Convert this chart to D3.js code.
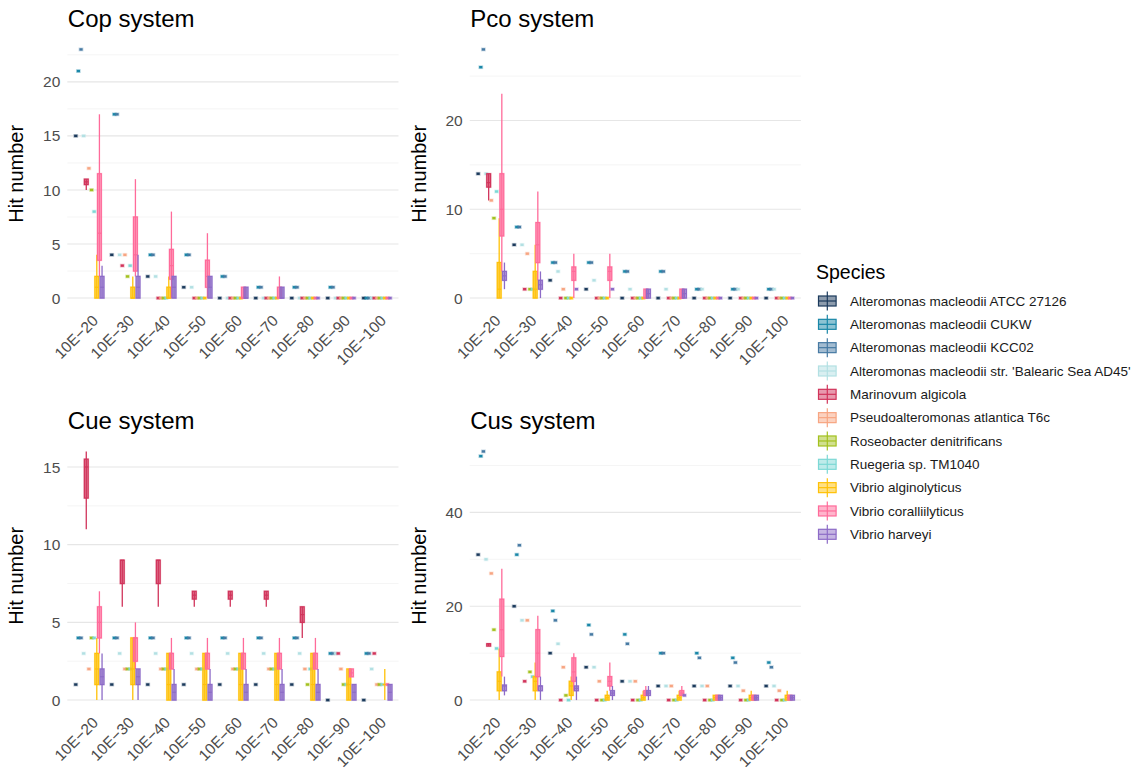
<!DOCTYPE html>
<html>
<head>
<meta charset="utf-8">
<script src="https://cdn.jsdelivr.net/npm/d3@7"></script>
<style>
  body { margin: 0; background: #fff; }
  text { font-family: "Liberation Sans", Arial, sans-serif; }
</style>
</head>
<body>
<div id="chart"></div>
<script>
// e-value thresholds (x axis)
const categories = ["10E−20", "10E−30", "10E−40", "10E−50", "10E−60", "10E−70", "10E−80", "10E−90", "10E−100"];

const species = [
  "Alteromonas macleodii ATCC 27126",
  "Alteromonas macleodii CUKW",
  "Alteromonas macleodii KCC02",
  "Alteromonas macleodii str. 'Balearic Sea AD45'",
  "Marinovum algicola",
  "Pseudoalteromonas atlantica T6c",
  "Roseobacter denitrificans",
  "Ruegeria sp. TM1040",
  "Vibrio alginolyticus",
  "Vibrio coralliilyticus",
  "Vibrio harveyi"
];

const speciesColors = ["#1b3a5c", "#1a87a8", "#477aa3", "#b3e0e3", "#d1345b", "#f7a582",
  "#a3c11f", "#7dd8d5", "#ffc107", "#ff6b9a", "#8d6bc7"];

// one row per threshold, one entry per species:
// a single number = one hit count, [min, q1, median, q3, max] = box
const copStats = [
  [15, 21, 23, 15, [10, 10.5, 10.75, 11, 11], 12, 10, 8, [0, 0, 1, 2, 4], [2, 3.5, 6, 11.5, 17], [0, 0, 1, 2, 3]],
  [4, 17, 17, 4, 3, 4, 2, 3, [0, 0, 0, 1, 2], [2, 2.5, 4, 7.5, 11], [0, 0, 1, 2, 4]],
  [2, 4, 4, 2, 0, 0, 0, 0, [0, 0, 0, 1, 2], [0, 1.75, 3, 4.5, 8], [0, 0, 1, 2, 2]],
  [1, 4, 4, 1, 0, 0, 0, 0, 0, [0, 1, 2, 3.5, 6], [0, 0, 1, 2, 2]],
  [0, 2, 2, 0, 0, 0, 0, 0, 0, [0, 0, 0, 1, 1], [0, 0, 0, 1, 1]],
  [0, 1, 1, 0, 0, 0, 0, 0, 0, [0, 0, 0, 1, 2], [0, 0, 0, 1, 1]],
  [0, 1, 1, 0, 0, 0, 0, 0, 0, 0, 0],
  [0, 1, 1, 0, 0, 0, 0, 0, 0, 0, 0],
  [0, 0, 0, 0, 0, 0, 0, 0, 0, 0, 0]
];

const pcoStats = [
  [14, 26, 28, 14, [11, 12.5, 13, 14, 14], 11, 9, 12, [0, 0, 1, 4, 9], [3, 7, 10, 14, 23], [1, 2, 2.5, 3, 4]],
  [6, 8, 8, 6, 1, 5, 1, 1, [0, 0, 1, 3, 6], [2, 4, 6, 8.5, 12], [0, 1, 1.5, 2, 3]],
  [2, 4, 4, 3, 0, 1, 0, 0, 0, [0, 2, 3, 3.5, 5], 1],
  [1, 4, 4, 2, 0, 0, 0, 0, 0, [0, 2, 3, 3.5, 5], 1],
  [0, 3, 3, 1, 0, 0, 0, 0, 0, [0, 0, 0, 1, 1], [0, 0, 0.5, 1, 1]],
  [0, 3, 3, 1, 0, 0, 0, 0, 0, [0, 0, 0, 1, 1], [0, 0, 0.5, 1, 1]],
  [0, 1, 1, 1, 0, 0, 0, 0, 0, 0, 0],
  [0, 1, 1, 1, 0, 0, 0, 0, 0, 0, 0],
  [0, 1, 1, 1, 0, 0, 0, 0, 0, 0, 0]
];

const cueStats = [
  [1, 4, 4, 3, [11, 13, 15, 15.5, 16], 2, 4, 4, [0, 1, 2, 3, 4], [3, 4, 5, 6, 7], [0, 1, 1.5, 2, 3]],
  [1, 4, 4, 3, [6, 7.5, 9, 9, 9], 2, 2, 2, [0, 1, 2, 4, 4], [2, 2.5, 4, 4, 5], [0, 1, 1.5, 2, 2]],
  [1, 4, 4, 3, [6, 7.5, 9, 9, 9], 2, 2, 2, [0, 0, 1, 3, 3], [2, 2, 3, 3, 4], [0, 0, 0.5, 1, 2]],
  [1, 4, 4, 3, [6, 6.5, 6.75, 7, 7], 2, 2, 2, [0, 0, 1, 3, 3], [2, 2, 3, 3, 4], [0, 0, 0.5, 1, 2]],
  [1, 4, 4, 3, [6, 6.5, 6.75, 7, 7], 2, 2, 2, [0, 0, 1, 3, 3], [2, 2, 3, 3, 4], [0, 0, 0.5, 1, 2]],
  [1, 4, 4, 3, [6, 6.5, 6.75, 7, 7], 2, 2, 2, [0, 0, 1, 3, 3], [2, 2, 3, 3, 4], [0, 0, 0.5, 1, 2]],
  [1, 4, 4, 3, [4, 5, 5.5, 6, 6], 2, 1, 2, [0, 0, 1, 3, 3], [2, 2, 3, 3, 4], [0, 0, 0.5, 1, 2]],
  [0, 3, 3, 3, 3, 2, 1, 1, [0, 0, 1, 2, 2], [1.5, 1.5, 1.75, 2, 2], [0, 0, 0.5, 1, 1]],
  [0, 3, 3, 2, 3, 1, 1, 1, [0, 1, 1, 1, 2], 1, [0, 0, 0.5, 1, 1]]
];

const cusStats = [
  [31, 52, 53, 30, [11.5, 11.5, 12, 12, 12], 27, 15, 11, [0, 2, 4, 6, 11], [5, 9.3, 15, 21.5, 28], [1, 2, 3, 3.2, 5]],
  [20, 31, 33, 17, 4, 17, 6, 5, [0, 2, 4, 5, 8], [2, 5, 10, 15, 18], [0, 2, 3, 3, 5]],
  [10, 19, 17, 12, 0, 7, 1, 0, [0, 1, 3, 4, 5], [2, 4, 6, 9, 10], [0, 2, 2.5, 3, 5]],
  [7, 16, 14, 7, 0, 4, 0, 0, [0, 0, 0.5, 1, 2], [2, 3, 4, 5, 8], [0, 1, 1.5, 2, 3]],
  [4, 14, 12, 4, 0, 4, 0, 0, [0, 0, 0.5, 1, 2], [1, 1, 1.5, 2, 3], [0, 1, 1.5, 2, 3]],
  [3, 10, 10, 3, 0, 3, 0, 0, [0, 0, 0.5, 1, 2], [1, 1, 1.5, 2, 3], 1],
  [3, 10, 9, 3, 0, 3, 0, 0, [0, 0, 0.5, 1, 1], [0, 0, 0.5, 1, 1], [0, 0, 0.5, 1, 1]],
  [3, 9, 8, 3, 0, 2, 0, 0, [0, 0, 0.5, 1, 2], [0, 0, 0.5, 1, 1], [0, 0, 0.5, 1, 1]],
  [3, 8, 7, 3, 0, 2, 0, 0, [0, 0, 0.5, 1, 2], [0, 0, 0.5, 1, 1], [0, 0, 0.5, 1, 1]]
];

// y-axis tick labels per panel
const copTicks = [0, 5, 10, 15, 20];
const pcoTicks = [0, 10, 20];
const cueTicks = [0, 5, 10, 15];
const cusTicks = [0, 20, 40];

const panels = [
  { title: "Cop system", stats: copStats, ticks: copTicks, col: 0, row: 0 },
  { title: "Pco system", stats: pcoStats, ticks: pcoTicks, col: 1, row: 0 },
  { title: "Cue system", stats: cueStats, ticks: cueTicks, col: 0, row: 1 },
  { title: "Cus system", stats: cusStats, ticks: cusTicks, col: 1, row: 1 }
];

const width = 1136, height = 773;
const colLeft = [67.3, 469.7], panelW = 331.2;
const rowTop = [37, 439], panelH = 273.5;

const svg = d3.select("#chart").append("svg")
  .attr("width", width)
  .attr("height", height);

const asBox = v => Array.isArray(v) ? v : [v, v, v, v, v];

panels.forEach(p => {
  const left = colLeft[p.col], top = rowTop[p.row], bottom = top + panelH;

  const x = d3.scalePoint().domain(categories).range([left, left + panelW]).padding(0.6);
  const dodge = d3.scalePoint().domain(species).range([-13.15, 13.15]);

  const maxVal = d3.max(p.stats.flat(2));
  const y = d3.scaleLinear().domain([-0.05 * maxVal, 1.05 * maxVal]).range([bottom, top]);

  const g = svg.append("g");

  // minor grid lines halfway between major ticks
  const step = p.ticks[1] - p.ticks[0];
  const minor = d3.range(p.ticks[0] - step / 2, y.domain()[1], step).filter(v => v > y.domain()[0]);
  g.selectAll(".minor").data(minor).enter().append("line")
    .attr("x1", left).attr("x2", left + panelW)
    .attr("y1", d => y(d)).attr("y2", d => y(d))
    .style("stroke", "#eeeeee").style("stroke-width", 0.6);
  g.selectAll(".major").data(p.ticks).enter().append("line")
    .attr("x1", left).attr("x2", left + panelW)
    .attr("y1", d => y(d)).attr("y2", d => y(d))
    .style("stroke", "#e6e6e6").style("stroke-width", 1.1);

  // y tick labels
  g.selectAll(".ytick").data(p.ticks).enter().append("text")
    .attr("x", left - 7).attr("y", d => y(d)).attr("dy", "0.36em")
    .attr("text-anchor", "end")
    .style("font-size", "15.5px").style("fill", "#4d4d4d")
    .text(d => d);

  // x tick labels, rotated 45 degrees
  g.selectAll(".xtick").data(categories).enter().append("text")
    .attr("transform", d => `translate(${x(d) + 2},${bottom + 3}) rotate(-45)`)
    .attr("dy", "0.75em")
    .attr("text-anchor", "end")
    .style("font-size", "15.5px").style("fill", "#4d4d4d")
    .text(d => d);

  // titles
  g.append("text")
    .attr("x", left + 0.5).attr("y", top - 10)
    .style("font-size", "24px").style("fill", "#000")
    .text(p.title);
  g.append("text")
    .attr("transform", `translate(${left - 44},${(top + bottom) / 2}) rotate(-90)`)
    .attr("text-anchor", "middle")
    .style("font-size", "20px").style("fill", "#000")
    .text("Hit number");

  // boxes
  p.stats.forEach((row, ci) => {
    row.forEach((v, si) => {
      const [mn, q1, md, q3, mx] = asBox(v);
      const cx = x(categories[ci]) + dodge(species[si]);
      const col = speciesColors[si];
      const bg = g.append("g");
      if (mn === mx) {
        bg.append("rect")
          .attr("x", cx - 2.4).attr("y", y(md) - 1.9)
          .attr("width", 4.8).attr("height", 3.8)
          .style("fill", col).style("opacity", 0.3);
        bg.append("rect")
          .attr("x", cx - 1.6).attr("y", y(md) - 1.2)
          .attr("width", 3.2).attr("height", 2.4)
          .style("fill", col);
        return;
      }
      // whiskers
      bg.append("line")
        .attr("x1", cx).attr("x2", cx)
        .attr("y1", y(mx)).attr("y2", y(mn))
        .style("stroke", col).style("stroke-width", 1.3);
      // halo
      bg.append("rect")
        .attr("x", cx - 2.9).attr("y", y(q3) - 1)
        .attr("width", 5.8).attr("height", Math.max(y(q1) - y(q3), 0) + 2)
        .style("fill", col).style("opacity", 0.3);
      bg.append("rect")
        .attr("x", cx - 1.9).attr("y", y(q3))
        .attr("width", 3.8).attr("height", Math.max(y(q1) - y(q3), 0))
        .style("fill", col).style("fill-opacity", 0.5)
        .style("stroke", col).style("stroke-width", 1.2);
      bg.append("line")
        .attr("x1", cx - 1.9).attr("x2", cx + 1.9)
        .attr("y1", y(md)).attr("y2", y(md))
        .style("stroke", col).style("stroke-width", 1.2);
    });
  });
});

// legend
const legend = svg.append("g").attr("transform", "translate(816,0)");
legend.append("text")
  .attr("x", 0).attr("y", 278.5)
  .style("font-size", "19.5px").style("fill", "#000")
  .text("Species");

const rows = legend.selectAll(".key").data(species).enter().append("g")
  .attr("transform", (d, i) => `translate(0,${301 + i * 23.33})`);
rows.append("line")
  .attr("x1", 11.3).attr("x2", 11.3).attr("y1", -9.5).attr("y2", 9.5)
  .style("stroke", (d, i) => speciesColors[i]).style("stroke-width", 1.2);
rows.append("rect")
  .attr("x", 2.5).attr("y", -5).attr("width", 17.6).attr("height", 10)
  .style("fill", (d, i) => speciesColors[i]).style("fill-opacity", 0.5)
  .style("stroke", (d, i) => speciesColors[i]).style("stroke-width", 1.2);
rows.append("line")
  .attr("x1", 2.5).attr("x2", 20.1).attr("y1", 0).attr("y2", 0)
  .style("stroke", (d, i) => speciesColors[i]).style("stroke-width", 1.2);
rows.append("text")
  .attr("x", 34).attr("y", 0).attr("dy", "0.35em")
  .style("font-size", "13.5px").style("fill", "#1a1a1a")
  .text(d => d);
</script>
</body>
</html>
